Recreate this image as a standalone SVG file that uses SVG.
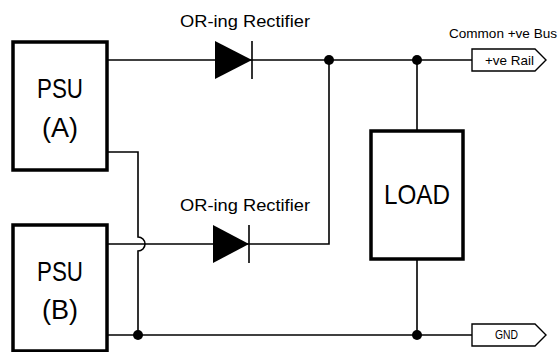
<svg xmlns="http://www.w3.org/2000/svg" width="558" height="352" viewBox="0 0 558 352">
<style>
.box{fill:#fff;stroke:#000;stroke-width:3.5}
.w{fill:none;stroke:#000;stroke-width:1.6}
.flag{fill:#fff;stroke:#000;stroke-width:1.4}
.t{font-family:"Liberation Sans",Arial,sans-serif;fill:#000}
.big{font-size:28px;text-anchor:middle}
.lbl{font-size:17px}
.sm{font-size:13px}
</style>
<defs>
<circle id="dot" r="5" fill="#000"/>
</defs>
<g id="connectors">
<path class="w" d="M107,60 H472"/>
<path class="w" d="M107,152 H138 V237 A7,7 0 0 1 138,251 V335"/>
<path class="w" d="M107,244 H329 V60"/>
<path class="w" d="M107,335 H472"/>
<path class="w" d="M417,60 V131 M417,259 V335"/>
<use href="#dot" x="329" y="60"/>
<use href="#dot" x="417" y="60"/>
<use href="#dot" x="138" y="335"/>
<use href="#dot" x="417" y="335"/>
</g>
<g id="psuA">
<rect class="box" x="13" y="42" width="94" height="128"/>
<text class="t big" x="60" y="98" textLength="46" lengthAdjust="spacingAndGlyphs">PSU</text>
<text class="t big" x="60" y="137" textLength="36" lengthAdjust="spacingAndGlyphs">(A)</text>
</g>
<g id="psuB">
<rect class="box" x="13" y="225" width="94" height="126"/>
<text class="t big" x="60" y="281" textLength="46" lengthAdjust="spacingAndGlyphs">PSU</text>
<text class="t big" x="60" y="319" textLength="36" lengthAdjust="spacingAndGlyphs">(B)</text>
</g>
<g id="diodeA">
<polygon points="215,41 215,79 252,60" fill="#000"/>
<path class="w" d="M252,41 V79"/>
<text class="t lbl" x="180" y="27" textLength="130" lengthAdjust="spacingAndGlyphs">OR-ing Rectifier</text>
</g>
<g id="diodeB">
<polygon points="213,225 213,263 249,244" fill="#000"/>
<path class="w" d="M249,225 V263"/>
<text class="t lbl" x="180" y="211" textLength="130" lengthAdjust="spacingAndGlyphs">OR-ing Rectifier</text>
</g>
<g id="load">
<rect class="box" x="371" y="131" width="92" height="128"/>
<text class="t big" x="417" y="204" font-size="26" textLength="66" lengthAdjust="spacingAndGlyphs">LOAD</text>
</g>
<g id="rail">
<polygon class="flag" points="472,49 535,49 546,60 535,71 472,71"/>
<text class="t sm" x="485" y="65" textLength="49" lengthAdjust="spacingAndGlyphs">+ve Rail</text>
<text class="t sm" x="449" y="38" textLength="108" lengthAdjust="spacingAndGlyphs">Common +ve Bus</text>
</g>
<g id="gnd">
<polygon class="flag" points="472,324 535,324 546,335 535,346 472,346"/>
<text class="t sm" x="495" y="339" font-size="12" textLength="23" lengthAdjust="spacingAndGlyphs">GND</text>
</g>
</svg>
